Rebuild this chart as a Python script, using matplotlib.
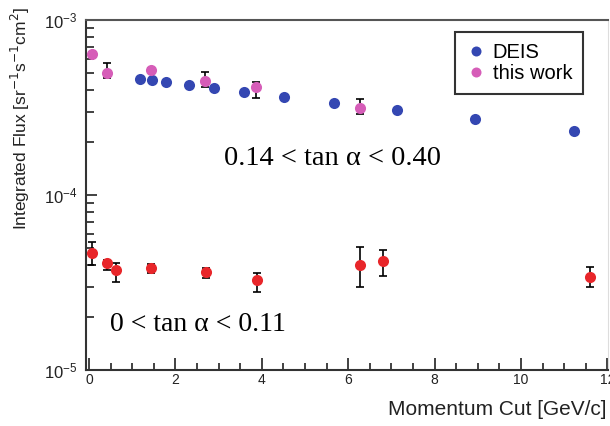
import numpy as np
import matplotlib
matplotlib.use("Agg")
import matplotlib.pyplot as plt
from matplotlib.ticker import LogLocator, MultipleLocator, NullFormatter

plt.rcParams['font.family'] = ['Liberation Sans', 'DejaVu Sans']

# DEIS (0.14 < tan a < 0.40)
deis_x = [1.18, 1.46, 1.78, 2.32, 2.90, 3.59, 4.52, 5.68, 7.13, 8.94, 11.23]
deis_y = [4.60e-4, 4.54e-4, 4.43e-4, 4.25e-4, 4.09e-4, 3.88e-4, 3.63e-4,
          3.36e-4, 3.06e-4, 2.72e-4, 2.32e-4]

# this work, 0.14 < tan a < 0.40
hi_x = [0.07, 0.42, 1.44, 2.69, 3.87, 6.28]
hi_y = [6.40e-4, 4.98e-4, 5.18e-4, 4.48e-4, 4.14e-4, 3.14e-4]
hi_up = [6.55e-4, 5.67e-4, 5.30e-4, 5.05e-4, 4.43e-4, 3.54e-4]
hi_lo = [6.25e-4, 4.66e-4, 5.06e-4, 4.14e-4, 3.58e-4, 2.90e-4]

# this work, 0 < tan a < 0.11
lo_x = [0.07, 0.42, 0.63, 1.44, 2.71, 3.89, 6.28, 6.81, 11.6]
lo_y = [4.69e-5, 4.10e-5, 3.73e-5, 3.84e-5, 3.64e-5, 3.27e-5, 3.99e-5, 4.21e-5, 3.40e-5]
lo_up = [5.42e-5, 4.27e-5, 4.10e-5, 4.04e-5, 3.84e-5, 3.59e-5, 5.07e-5, 4.87e-5, 3.89e-5]
lo_lo = [3.99e-5, 3.73e-5, 3.19e-5, 3.59e-5, 3.36e-5, 2.79e-5, 2.98e-5, 3.45e-5, 2.98e-5]

blue = '#3447b2'
pink = '#d65db8'
red = '#e8262a'

fig = plt.figure(figsize=(6.10, 4.26), dpi=100)
ax = fig.add_axes([0.141, 0.131, 0.856, 0.822])

hi_err = [np.array(hi_y) - np.array(hi_lo), np.array(hi_up) - np.array(hi_y)]
lo_err = [np.array(lo_y) - np.array(lo_lo), np.array(lo_up) - np.array(lo_y)]

ax.errorbar(hi_x, hi_y, yerr=hi_err, fmt='none', ecolor='black', elinewidth=1.2,
            capsize=3, capthick=1.2, zorder=2)
ax.errorbar(lo_x, lo_y, yerr=lo_err, fmt='none', ecolor='black', elinewidth=1.2,
            capsize=3, capthick=1.2, zorder=2)
ax.plot(deis_x, deis_y, 'o', color=blue, ms=8, mec='none', label='DEIS', zorder=3)
ax.plot(hi_x, hi_y, 'o', color=pink, ms=8, mec='none', label='this work', zorder=3)
ax.plot(lo_x, lo_y, 'o', color=red, ms=8, mec='none', zorder=3)

ax.set_yscale('log')
ax.set_ylim(1e-5, 1e-3)
ax.set_xlim(-0.07, 12.02)

ax.xaxis.set_major_locator(MultipleLocator(2))
ax.xaxis.set_minor_locator(MultipleLocator(0.5))
ax.yaxis.set_major_locator(LogLocator(base=10))
ax.yaxis.set_minor_locator(LogLocator(base=10, subs=np.arange(2, 10)))
ax.yaxis.set_minor_formatter(NullFormatter())

ax.tick_params(axis='both', which='both', direction='in', colors='#333333',
               width=1.3, labelcolor='#222222')
ax.tick_params(axis='x', which='major', length=9, labelsize=10, pad=2)
ax.tick_params(axis='x', which='minor', length=5)
ax.tick_params(axis='y', which='major', length=8, labelsize=12, pad=6)
ax.tick_params(axis='y', which='minor', length=6)
ax.tick_params(top=False, right=False, which='both')

for side in ['left', 'bottom']:
    ax.spines[side].set_color('#333333')
    ax.spines[side].set_linewidth(1.5)
ax.spines['top'].set_color('#555555')
ax.spines['top'].set_linewidth(1.5)
ax.spines['right'].set_color('#dddddd')

ax.set_xlabel('Momentum Cut [GeV/c]', fontsize=15, color='#222222')
ax.xaxis.set_label_coords(0.997, -0.085)
ax.xaxis.label.set_horizontalalignment('right')
ax.set_ylabel(r'Integrated Flux [sr$^{-1}$s$^{-1}$cm$^{2}$]', fontsize=12.5, color='#222222')
ax.yaxis.set_label_coords(-0.103, 0.72)

ax.text(0.265, 0.605, '0.14 < tan α < 0.40', transform=ax.transAxes,
        fontsize=20.5, family='Liberation Serif', va='center')
ax.text(0.045, 0.13, '0 < tan α < 0.11', transform=ax.transAxes,
        fontsize=20, family='Liberation Serif', va='center')

leg = ax.legend(loc='upper right', bbox_to_anchor=(0.972, 0.995), fontsize=14.5,
                handletextpad=0.35, handlelength=1.0, borderpad=0.55,
                labelspacing=0.12, fancybox=False, edgecolor='black', markerscale=0.9)
leg.get_frame().set_linewidth(1.5)

fig.savefig('out.png', dpi=100)
